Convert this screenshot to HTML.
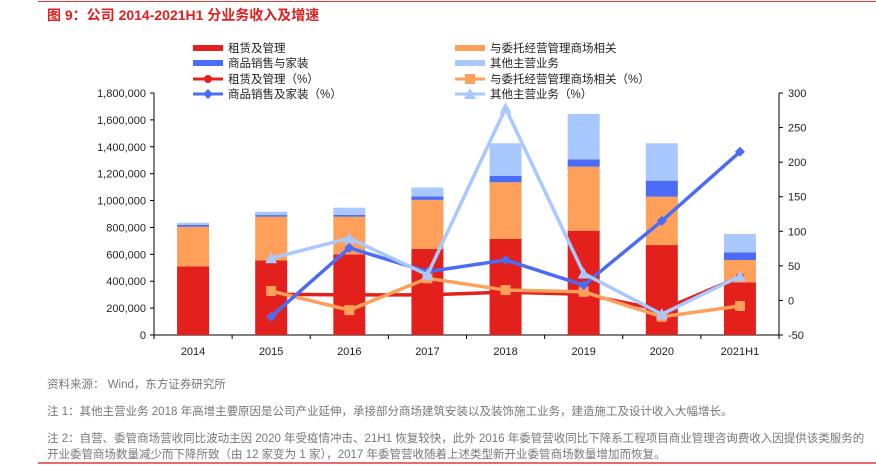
<!DOCTYPE html>
<html><head><meta charset="utf-8"><style>
body{margin:0;background:#fff;width:876px;height:465px;overflow:hidden;font-family:"Liberation Sans","Noto Sans CJK SC",sans-serif;}
.t{position:absolute;left:47px;font-size:11.5px;color:#777;white-space:nowrap;}
</style></head><body>
<div style="position:absolute;left:38px;top:1px;width:838px;height:1px;background:#e03a3a"></div>
<div style="position:absolute;left:47px;top:5px;font-size:14px;font-weight:bold;color:#e02020">图 9：公司 2014-2021H1 分业务收入及增速</div>
<svg id="c" width="876" height="465" style="position:absolute;left:0;top:0" xmlns="http://www.w3.org/2000/svg"></svg>
<div class="t" style="top:376px">资料来源：&nbsp;Wind，东方证券研究所</div>
<div class="t" style="top:403px">注 1：其他主营业务 2018 年高增主要原因是公司产业延伸，承接部分商场建筑安装以及装饰施工业务，建造施工及设计收入大幅增长。</div>
<div class="t" style="top:430px">注 2：自营、委管商场营收同比波动主因 2020 年受疫情冲击、21H1 恢复较快，此外 2016 年委管营收同比下降系工程项目商业管理咨询费收入因提供该类服务的</div>
<div class="t" style="top:446px">开业委管商场数量减少而下降所致（由 12 家变为 1 家），2017 年委管营收随着上述类型新开业委管商场数量增加而恢复。</div>
<div style="position:absolute;left:38px;top:462px;width:838px;height:2px;background:#e86a6a"></div>
<script>
const categories=["2014","2015","2016","2017","2018","2019","2020","2021H1"];
const rental=[510000,555000,600000,640000,714000,776000,669000,392000];
const entrusted=[295000,325000,280000,365000,422000,476000,360000,166000];
const sales=[15000,12000,13000,25000,47000,54000,119000,57000];
const other=[15000,25000,54000,67000,243000,338000,278000,136000];
const rentalPct=[null,9,8,8,12,9,-14,34];
const entrustedPct=[null,13.6,-14,32,15,12.6,-23.6,-8];
const salesPct=[null,-23.6,76,41.5,58.5,22,115,215];
const otherPct=[null,61,90,37,278,39,-20,35];
const leftTicks=[0,200000,400000,600000,800000,1000000,1200000,1400000,1600000,1800000];
const rightTicks=[-50,0,50,100,150,200,250,300];
const NS="http://www.w3.org/2000/svg",svg=document.getElementById('c');
const X0=154,X1=779,Y0=335,Y1=93;
const bw=(X1-X0)/categories.length;
const cx=i=>X0+bw*(i+0.5);
const yL=v=>Y0-(v/1800000)*(Y0-Y1);
const yR=v=>Y0-((v+50)/350)*(Y0-Y1);
function el(t,a,p){const e=document.createElementNS(NS,t);for(const k in a)e.setAttribute(k,a[k]);(p||svg).appendChild(e);return e;}
function txt(x,y,s,anchor,size,name){const e=el('text',{x:x,y:y,'font-size':size||11,'text-anchor':anchor||'start',fill:'#222','font-family':'"Liberation Sans","Noto Sans CJK SC",sans-serif'});e.textContent=s;return e;}
// axes
let a=el('line',{x1:X0,y1:Y1,x2:X0,y2:Y0,stroke:'#000'});
a=el('line',{x1:X1,y1:Y1,x2:X1,y2:Y0,stroke:'#000'});
a=el('line',{x1:X0,y1:Y0,x2:X1,y2:Y0,stroke:'#000'});
leftTicks.forEach(v=>{const y=yL(v);el('line',{x1:X0-4,y1:y,x2:X0,y2:y,stroke:'#000'});txt(X0-8,y+4,v.toLocaleString('en-US'),'end',11,'left-tick-label');});
rightTicks.forEach(v=>{const y=yR(v);el('line',{x1:X1,y1:y,x2:X1+4,y2:y,stroke:'#000'});txt(X1+9,y+4,String(v),'start',11,'right-tick-label');});
for(let i=0;i<=categories.length;i++){const x=X0+bw*i;el('line',{x1:x,y1:Y0,x2:x,y2:Y0+4,stroke:'#000'});}
categories.forEach((c,i)=>txt(cx(i),Y0+20,c,'middle',11,'x-tick-label'));
// bars
const stacks=[[rental,'#e3201b','bar-rental'],[entrusted,'#ffa05a','bar-entrusted'],[sales,'#4a6cf7','bar-sales'],[other,'#a8c8ff','bar-other']];
categories.forEach((c,i)=>{let base=0;stacks.forEach(s=>{const v=s[0][i];const r=el('rect',{x:cx(i)-16,y:yL(base+v),width:32,height:yL(base)-yL(base+v),fill:s[1]});base+=v;});});
// lines
function line(data,col,mk,name){const pts=[];data.forEach((v,i)=>{if(v!==null)pts.push([cx(i),yR(v)]);});
 const p=el('polyline',{points:pts.map(q=>q.join(',')).join(' '),fill:'none',stroke:col,'stroke-width':3.5});
 pts.forEach(q=>marker(q[0],q[1],col,mk,name+'-point'));}
function marker(x,y,col,mk,name){let m;
 if(mk==='circle')m=el('circle',{cx:x,cy:y,r:4,fill:col});
 else if(mk==='square')m=el('rect',{x:x-5,y:y-5,width:10,height:10,fill:col});
 else if(mk==='diamond')m=el('polygon',{points:`${x},${y-5} ${x+5},${y} ${x},${y+5} ${x-5},${y}`,fill:col});
 else m=el('polygon',{points:`${x},${y-6} ${x+6},${y+5} ${x-6},${y+5}`,fill:col});
 }
line(rentalPct,'#e3201b','circle','line-rental-pct');
line(entrustedPct,'#ffa05a','square','line-entrusted-pct');
line(salesPct,'#4a6cf7','diamond','line-sales-pct');
line(otherPct,'#a8c8ff','triangle','line-other-pct');
// legend
const leg=[[193,48,'#e3201b','租赁及管理','bar'],[455,48,'#ffa05a','与委托经营管理商场相关','bar'],[193,63,'#4a6cf7','商品销售与家装','bar'],[455,63,'#a8c8ff','其他主营业务','bar'],
[193,79,'#e3201b','租赁及管理（%）','circle'],[455,79,'#ffa05a','与委托经营管理商场相关（%）','square'],[193,94,'#4a6cf7','商品销售及家装（%）','diamond'],[455,94,'#a8c8ff','其他主营业务（%）','triangle']];
leg.forEach(l=>{const g=el('g',{});
 if(l[4]==='bar')el('rect',{x:l[0],y:l[1]-3,width:30,height:6,fill:l[2]},g);
 else{el('line',{x1:l[0],y1:l[1],x2:l[0]+30,y2:l[1],stroke:l[2],'stroke-width':3},g);marker(l[0]+15,l[1],l[2],l[4],'legend-marker');}
 const t=txt(l[0]+35,l[1]+4,l[3],'start',11.5,'legend-label');g.appendChild(t);});
</script>
</body></html>
